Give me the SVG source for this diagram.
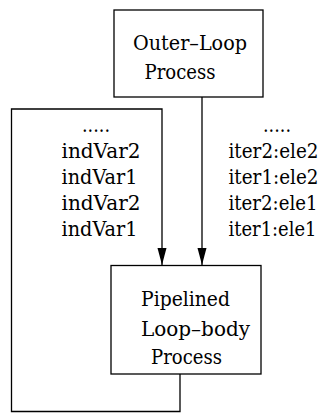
<svg xmlns="http://www.w3.org/2000/svg" width="321" height="413" viewBox="0 0 321 413">
  <style>
    .box { fill: #ffffff; stroke: #000000; stroke-width: 1.3; }
    .wire { fill: none; stroke: #000000; stroke-width: 1.3; }
  </style>
  <defs>
    <marker id="arrow" markerUnits="userSpaceOnUse" markerWidth="18" markerHeight="10" refX="17" refY="4.5" orient="auto">
      <path d="M0,0 L17,4.5 L0,9 z" fill="#000000"/>
    </marker>
  </defs>
  <rect width="321" height="413" fill="#ffffff"/>

  <!-- connectors -->
  <g id="connectors">
    <!-- outer loop feeds the pipelined body -->
    <path class="wire" d="M202,97 L202,265" marker-end="url(#arrow)"/>
    <!-- feedback loop from the body back into itself -->
    <path class="wire" d="M180,374 L180,411.5 L11.5,411.5 L11.5,109 L162,109 L162,265" marker-end="url(#arrow)"/>
  </g>

  <g font-family="'DejaVu Serif', serif" font-size="20.5" fill="#000000">
    <!-- induction variable stream (feedback loop) -->
    <g id="labels-left">
      <text x="82" y="132" textLength="28" lengthAdjust="spacingAndGlyphs">.....</text>
      <text x="61.5" y="158" textLength="79" lengthAdjust="spacingAndGlyphs">indVar2</text>
      <text x="61.5" y="184" textLength="76" lengthAdjust="spacingAndGlyphs">indVar1</text>
      <text x="61.5" y="210" textLength="79" lengthAdjust="spacingAndGlyphs">indVar2</text>
      <text x="61.5" y="236" textLength="76" lengthAdjust="spacingAndGlyphs">indVar1</text>
    </g>
    <!-- element stream from the outer loop, narrowed to fit the right margin -->
    <g id="labels-right">
      <text x="263" y="132" textLength="28" lengthAdjust="spacingAndGlyphs">.....</text>
      <text transform="translate(228.5,158) scale(0.85,1)" textLength="105.9" lengthAdjust="spacingAndGlyphs">iter2:ele2</text>
      <text transform="translate(228.5,184) scale(0.85,1)" textLength="105.9" lengthAdjust="spacingAndGlyphs">iter1:ele2</text>
      <text transform="translate(228.5,210) scale(0.85,1)" textLength="104.7" lengthAdjust="spacingAndGlyphs">iter2:ele1</text>
      <text transform="translate(228.5,236) scale(0.85,1)" textLength="103.5" lengthAdjust="spacingAndGlyphs">iter1:ele1</text>
    </g>

    <g id="outer-loop">
      <rect class="box" x="114" y="10" width="149" height="87"/>
      <text x="133" y="50" textLength="114" lengthAdjust="spacingAndGlyphs">Outer–Loop</text>
      <text x="144.5" y="79" textLength="71" lengthAdjust="spacingAndGlyphs">Process</text>
    </g>

    <g id="pipelined-body">
      <rect class="box" x="111" y="265.5" width="150" height="108.5"/>
      <text x="141" y="306" textLength="89" lengthAdjust="spacingAndGlyphs">Pipelined</text>
      <text x="141" y="335.5" textLength="109" lengthAdjust="spacingAndGlyphs">Loop–body</text>
      <text x="151" y="364" textLength="71" lengthAdjust="spacingAndGlyphs">Process</text>
    </g>
  </g>
</svg>
